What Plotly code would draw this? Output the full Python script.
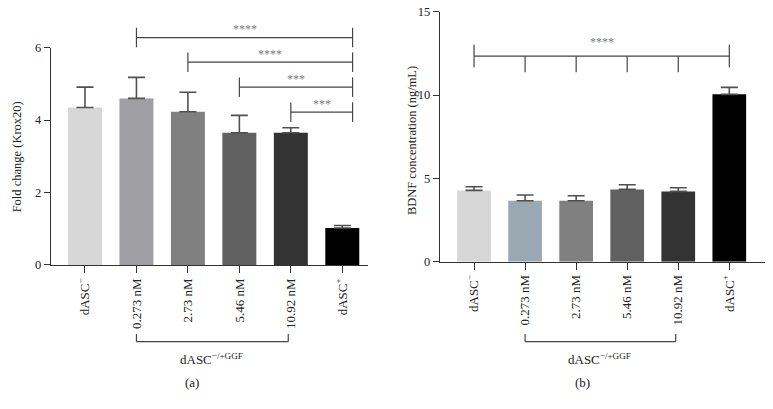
import plotly.graph_objects as go

# ---------------- data ----------------
tick_labels = ["dASC<sup>−</sup>", "0.273 nM", "2.73 nM", "5.46 nM", "10.92 nM", "dASC<sup>+</sup>"]
positions = [0, 1, 2, 3, 4, 5]

krox_mean = [4.35, 4.60, 4.23, 3.65, 3.65, 1.02]
krox_sem = [0.56, 0.58, 0.54, 0.48, 0.14, 0.07]
krox_colors = ["#d7d7d7", "#a0a0a4", "#808080", "#606060", "#333333", "#000000"]

bdnf_mean = [4.28, 3.66, 3.66, 4.34, 4.22, 10.04]
bdnf_sem = [0.22, 0.34, 0.30, 0.28, 0.22, 0.42]
bdnf_colors = ["#d7d7d7", "#9aa9b1", "#808080", "#606060", "#333333", "#000000"]

# significance brackets, panel (a): (start index, end index, level, label)
sig_a = [(1, 5.2, 6.28, "****"), (2, 5.2, 5.60, "****"), (3, 5.2, 4.91, "***"), (4, 5.2, 4.22, "***")]
# panel (b): one comb from index 0 to 5
sig_b_level = 12.34
sig_b_label = "****"

group_label = "dASC<sup>−/+GGF</sup>"
panel_labels = ["(a)", "(b)"]
y_titles = ["Fold change (Krox20)", "BDNF concentration (ng/mL)"]

YMAX_A = 6
YMAX_B = 15

FONT = "Liberation Serif"
AX_COL = "#333333"
BR_COL = "#454545"
STAR_COL = "#7a7a7a"

fig = go.Figure()

fig.add_trace(go.Bar(
    x=positions, y=krox_mean, width=0.66,
    marker=dict(color=krox_colors, line=dict(width=0)),
    error_y=dict(type="data", symmetric=False, array=krox_sem, arrayminus=[0] * 6,
                 color="#505050", thickness=1.6, width=8.5),
    xaxis="x", yaxis="y", showlegend=False))

fig.add_trace(go.Bar(
    x=positions, y=bdnf_mean, width=0.66,
    marker=dict(color=bdnf_colors, line=dict(width=0)),
    error_y=dict(type="data", symmetric=False, array=bdnf_sem, arrayminus=[0] * 6,
                 color="#505050", thickness=1.6, width=8.5),
    xaxis="x2", yaxis="y2", showlegend=False))

shapes = []
annotations = []

# ---- panel (a) brackets ----
tick_a = 0.27
fa = lambda v: v / YMAX_A
for x0, x1, lev, lab in sig_a:
    shapes.append(dict(type="line", xref="x", yref="y domain", x0=x0, x1=x1, y0=fa(lev), y1=fa(lev),
                       line=dict(color=BR_COL, width=1.2)))
    for xe in (x0, x1):
        shapes.append(dict(type="line", xref="x", yref="y domain", x0=xe, x1=xe,
                           y0=fa(lev - tick_a), y1=fa(lev + tick_a), line=dict(color=BR_COL, width=1.2)))
    annotations.append(dict(text=lab, xref="x", yref="y domain", x=(x0 + x1) / 2, y=fa(lev + 0.23),
                            showarrow=False, xanchor="center", yanchor="middle",
                            font=dict(family=FONT, size=12, color=STAR_COL)))

# ---- panel (b) comb bracket ----
fb = lambda v: v / YMAX_B
shapes.append(dict(type="line", xref="x2", yref="y2 domain", x0=0, x1=5, y0=fb(sig_b_level), y1=fb(sig_b_level),
                   line=dict(color=BR_COL, width=1.2)))
for xe in (0, 5):
    shapes.append(dict(type="line", xref="x2", yref="y2 domain", x0=xe, x1=xe,
                       y0=fb(sig_b_level - 0.67), y1=fb(sig_b_level + 0.67), line=dict(color=BR_COL, width=1.2)))
for xe in (1, 2, 3, 4):
    shapes.append(dict(type="line", xref="x2", yref="y2 domain", x0=xe, x1=xe,
                       y0=fb(sig_b_level - 0.98), y1=fb(sig_b_level), line=dict(color=BR_COL, width=1.2)))
annotations.append(dict(text=sig_b_label, xref="x2", yref="y2 domain", x=2.5, y=fb(sig_b_level + 0.82),
                        showarrow=False, xanchor="center", yanchor="middle",
                        font=dict(family=FONT, size=12, color=STAR_COL)))

# ---- group brackets under the tick labels ----
for xr, lab_x_paper, plab in (("x", 0.2484, panel_labels[0]), ("x2", 0.7542, panel_labels[1])):
    shapes.append(dict(type="line", xref=xr, yref="paper", x0=1, x1=3.95, y0=0.1646, y1=0.1646,
                       line=dict(color=BR_COL, width=1.2)))
    for xe in (1, 3.95):
        shapes.append(dict(type="line", xref=xr, yref="paper", x0=xe, x1=xe, y0=0.1646, y1=0.1834,
                           line=dict(color=BR_COL, width=1.2)))
    annotations.append(dict(text=group_label, xref=xr, yref="paper", x=2.45, y=0.122, showarrow=False,
                            xanchor="center", yanchor="middle", font=dict(family=FONT, size=13, color="#222")))
    annotations.append(dict(text=plab, xref="paper", yref="paper", x=lab_x_paper, y=0.0636, showarrow=False,
                            xanchor="center", yanchor="middle", font=dict(family=FONT, size=13, color="#222")))

# ---- y axis titles ----
annotations.append(dict(text=y_titles[0], xref="paper", yref="paper", x=0.0216, y=0.617, textangle=-90,
                        showarrow=False, xanchor="center", yanchor="middle",
                        font=dict(family=FONT, size=12.5, color="#222")))
annotations.append(dict(text=y_titles[1], xref="paper", yref="paper", x=0.533, y=0.655, textangle=-90,
                        showarrow=False, xanchor="center", yanchor="middle",
                        font=dict(family=FONT, size=12.5, color="#222")))

xcommon = dict(tickmode="array", tickvals=positions, ticktext=tick_labels, tickangle=-90,
               showline=True, linecolor=AX_COL, linewidth=1.3, ticks="outside", ticklen=7,
               tickcolor=AX_COL, tickwidth=1.2, showgrid=False, zeroline=False, automargin=False,
               tickfont=dict(family=FONT, size=13, color="#222"))
ycommon = dict(showline=True, linecolor=AX_COL, linewidth=1.3, ticks="outside", ticklen=6,
               tickcolor=AX_COL, tickwidth=1.2, showgrid=False, zeroline=False, automargin=False,
               tickfont=dict(family=FONT, size=12.5, color="#222"))

fig.update_layout(
    width=773, height=409,
    margin=dict(l=0, r=0, t=0, b=0),
    paper_bgcolor="white", plot_bgcolor="white",
    xaxis=dict(domain=[0.0660, 0.4761], range=[-0.66, 5.5], anchor="y", **xcommon),
    yaxis=dict(domain=[0.3521, 0.8834], range=[0, YMAX_A], tickvals=[0, 2, 4, 6], anchor="x", **ycommon),
    xaxis2=dict(domain=[0.5692, 0.9897], range=[-0.667, 5.7], anchor="y2", **xcommon),
    yaxis2=dict(domain=[0.3601, 0.9714], range=[0, YMAX_B], tickvals=[0, 5, 10, 15], anchor="x2", **ycommon),
    shapes=shapes,
    annotations=annotations,
    bargap=0.3,
)

fig.write_html("out.html", config={"displayModeBar": False},
               post_script="document.body.style.margin='0';document.body.style.overflow='hidden';")
